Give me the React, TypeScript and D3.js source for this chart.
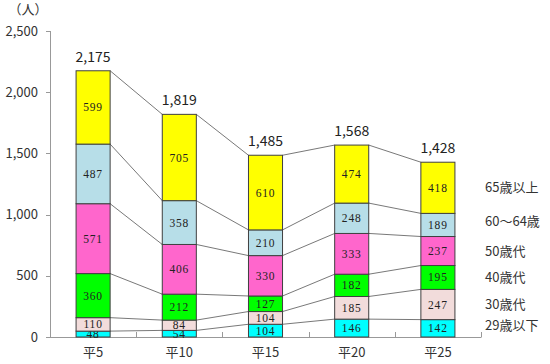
import React from 'react';
import * as d3 from 'd3';

const years = ['平5', '平10', '平15', '平20', '平25'];
const groups = ['29歳以下', '30歳代', '40歳代', '50歳代', '60～64歳', '65歳以上'];
const under29 = [48, 54, 104, 146, 142];
const age30s = [110, 84, 104, 185, 247];
const age40s = [360, 212, 127, 182, 195];
const age50s = [571, 406, 330, 333, 237];
const age60to64 = [487, 358, 210, 248, 189];
const over65 = [599, 705, 610, 474, 418];
const yTicks = [0, 500, 1000, 1500, 2000, 2500];
const colors = ['#00FFFF', '#F2DCDB', '#00FF00', '#FF66CC', '#B7DEE8', '#FFFF00'];

const W = 550;
const H = 364;

export default function App() {
  const series = [under29, age30s, age40s, age50s, age60to64, over65];
  const rows = years.map((y, i) => {
    const r: any = { year: y };
    groups.forEach((g, j) => (r[g] = series[j][i]));
    return r;
  });
  const stacked = d3.stack().keys(groups)(rows);
  const totals = years.map((_, i) => d3.sum(series, (s) => s[i]));

  const x = d3.scaleBand().domain(years).range([50, 481]).paddingInner(0.605).paddingOuter(0.3025);
  const y = d3.scaleLinear().domain([0, 2500]).range([337, 31]);
  const bw = x.bandwidth();
  const step = x.step();
  const fmt = d3.format(',');
  const last = years.length - 1;

  return (
    <svg width={W} height={H} style={{ position: 'absolute', left: 0, top: 0, background: '#fff' }}
      fontFamily="'Noto Sans CJK JP', 'Noto Sans', sans-serif">
      {/* y axis */}
      <line x1={50.5} x2={50.5} y1={y(2500)} y2={y(0)} stroke="#999" />
      {yTicks.map((t) => (
        <g key={t}>
          <line x1={46} x2={50.5} y1={Math.round(y(t)) + 0.5} y2={Math.round(y(t)) + 0.5} stroke="#999" />
          <text x={38} y={y(t)} dy="0.35em" textAnchor="end" fontSize={13} fill="#333">{fmt(t)}</text>
        </g>
      ))}
      <text x={28} y={9} dy="0.35em" textAnchor="middle" fontSize={13} fill="#333">（人）</text>
      {/* x axis */}
      <line x1={50} x2={481} y1={337.5} y2={337.5} stroke="#999" />
      {d3.range(years.length + 1).map((k) => (
        <line key={k} x1={Math.round(50 + k * step) + 0.5} x2={Math.round(50 + k * step) + 0.5} y1={332} y2={337.5} stroke="#999" />
      ))}
      {years.map((yr) => (
        <text key={yr} x={(x(yr) as number) + bw / 2} y={357} textAnchor="middle" fontSize={13} fill="#333">{yr}</text>
      ))}
      {/* connector lines */}
      {stacked.map((s) =>
        years.slice(0, -1).map((yr, i) => (
          <line key={s.key + yr} x1={(x(yr) as number) + bw} x2={x(years[i + 1]) as number}
            y1={y(s[i][1])} y2={y(s[i + 1][1])} stroke="#555" strokeWidth={0.8} />
        ))
      )}
      {/* bars */}
      {stacked.map((s, j) => (
        <g key={s.key}>
          {s.map((d, i) => (
            <g key={i}>
              <rect x={x(years[i])} y={y(d[1])} width={bw} height={y(d[0]) - y(d[1])}
                fill={colors[j]} stroke="#404040" strokeWidth={1} />
              <text x={(x(years[i]) as number) + bw / 2} y={(y(d[0]) + y(d[1])) / 2} dy="0.35em"
                textAnchor="middle" fontSize={11.5} letterSpacing={0.8} fill="#222"
                fontFamily="'Liberation Serif', 'DejaVu Serif', serif">
                {d[1] - d[0]}
              </text>
            </g>
          ))}
        </g>
      ))}
      {/* totals */}
      {years.map((yr, i) => (
        <text key={yr} x={(x(yr) as number) + bw / 2} y={y(totals[i]) - 9} textAnchor="middle" fontSize={14} fill="#222">
          {fmt(totals[i])}
        </text>
      ))}
      {/* series labels */}
      {stacked.map((s, j) => (
        <text key={s.key} x={485} y={(y(s[last][0]) + y(s[last][1])) / 2 - (j === 0 || j === 4 ? 3 : 0)}
          dy="0.35em" fontSize={13} fill="#333">
          {s.key}
        </text>
      ))}
    </svg>
  );
}
